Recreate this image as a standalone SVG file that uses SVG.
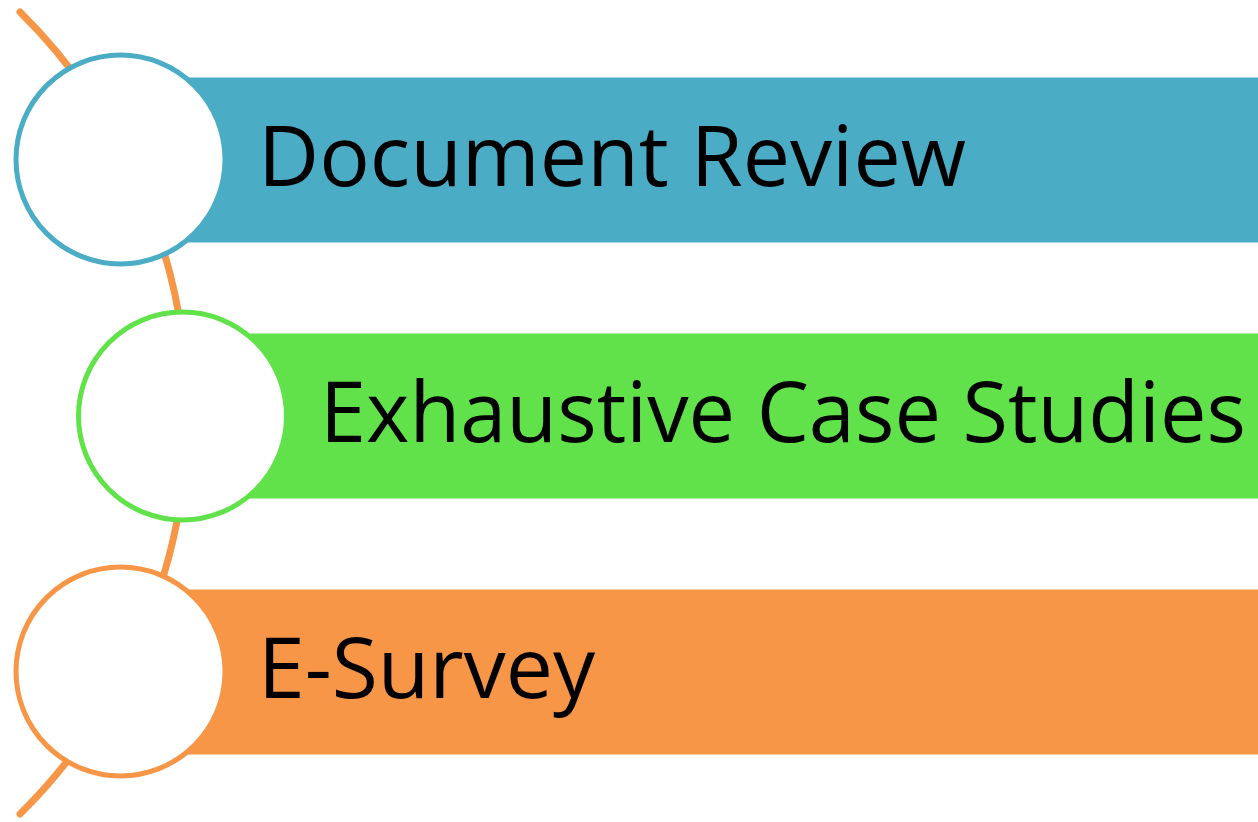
<svg xmlns="http://www.w3.org/2000/svg" width="1258" height="822" viewBox="0 0 1258 822">
  <style>
    .label { font-family: "Open Sans", "Noto Sans", "Liberation Sans", sans-serif; font-size: 84px; fill: #000000; }
    .ring { fill: #FFFFFF; stroke-width: 5; }
    .spine { fill: none; stroke: #F79646; stroke-width: 7; stroke-linecap: round; }
  </style>
  <rect width="1258" height="822" fill="#FFFFFF"/>

  <!-- curved spine joining the three steps -->
  <g id="connectors">
    <path class="spine" d="M 20 12 A 564 564 0 0 1 20 814"/>
  </g>

  <!-- step 1 -->
  <g id="node-document-review">
    <rect x="120" y="77.5" width="1138" height="165" fill="#4BACC6"/>
    <circle class="ring" cx="120.5" cy="159.5" r="104.5" stroke="#4BACC6"/>
    <text class="label" x="258" y="186" textLength="708" lengthAdjust="spacingAndGlyphs">Document Review</text>
  </g>

  <!-- step 2 -->
  <g id="node-case-studies">
    <rect x="182" y="333.5" width="1076" height="165" fill="#62E24A"/>
    <circle class="ring" cx="182.5" cy="416" r="104" stroke="#62E24A"/>
    <text class="label" x="320" y="442" textLength="926" lengthAdjust="spacingAndGlyphs">Exhaustive Case Studies</text>
  </g>

  <!-- step 3 -->
  <g id="node-e-survey">
    <rect x="120" y="589.5" width="1138" height="165" fill="#F79646"/>
    <circle class="ring" cx="120.5" cy="671.5" r="104.5" stroke="#F79646"/>
    <text class="label" x="258" y="698" textLength="337" lengthAdjust="spacingAndGlyphs">E-Survey</text>
  </g>
</svg>
